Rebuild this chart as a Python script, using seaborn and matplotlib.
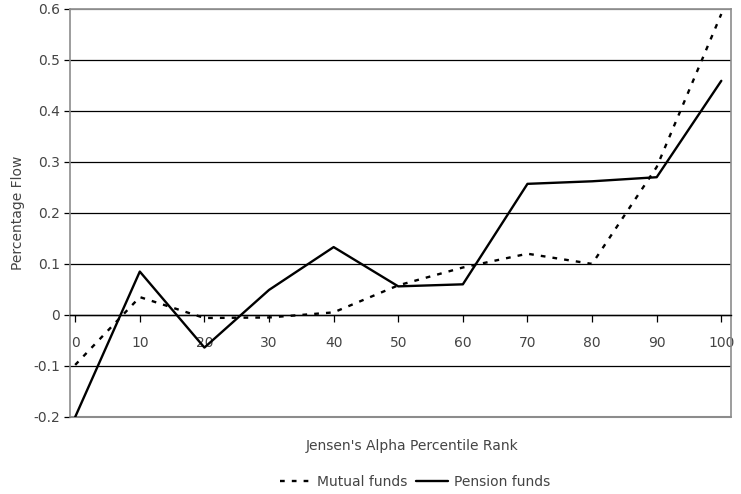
import pandas as pd
import seaborn as sns
import matplotlib.pyplot as plt

sns.set_style('white')
plt.rcParams['font.family'] = ['DejaVu Sans']

ranks = [0, 10, 20, 30, 40, 50, 60, 70, 80, 90, 100]
mutual = [-0.098, 0.035, -0.006, -0.005, 0.005, 0.058, 0.093, 0.12, 0.10, 0.29, 0.59]
pension = [-0.20, 0.085, -0.064, 0.049, 0.133, 0.056, 0.060, 0.257, 0.262, 0.270, 0.459]
yticks = [-0.2, -0.1, 0, 0.1, 0.2, 0.3, 0.4, 0.5, 0.6]
ytick_labels = ['-0.2', '-0.1', '0', '0.1', '0.2', '0.3', '0.4', '0.5', '0.6']

df = pd.DataFrame({
    'rank': ranks * 2,
    'flow': mutual + pension,
    'series': ['Mutual funds'] * len(ranks) + ['Pension funds'] * len(ranks),
})

txt = '#444444'
frame = '#8c8c8c'
fs = 10

fig = plt.figure(figsize=(7.41, 4.94), dpi=100)
ax = fig.add_axes([0.0945, 0.156, 0.892, 0.826])

sns.lineplot(data=df, x='rank', y='flow', hue='series', style='series',
             palette={'Mutual funds': 'black', 'Pension funds': 'black'},
             dashes={'Mutual funds': (2, 3), 'Pension funds': ''},
             linewidth=1.7, ax=ax, legend=True)

ax.set_xlim(-0.8, 101.5)
ax.set_ylim(-0.2, 0.6)
ax.set_xticks(ranks)
ax.set_xticklabels([str(r) for r in ranks])
ax.set_yticks(yticks)
ax.set_yticklabels(ytick_labels)

ax.grid(axis='y', color='black', linewidth=0.9)
gl = ax.get_ygridlines()
for g in (gl[0], gl[-1]):
    g.set_color(frame)
ax.axhline(-0.2, color=frame, linewidth=1.5, clip_on=False, zorder=0)
ax.set_axisbelow(True)

ax.spines['bottom'].set_position(('data', 0))
ax.spines['bottom'].set_color('black')
ax.spines['bottom'].set_linewidth(1.0)
for s in ('left', 'top', 'right'):
    ax.spines[s].set_color(frame)
    ax.spines[s].set_linewidth(1.2)

ax.tick_params(axis='x', direction='out', length=5, width=0.9, color='black',
               pad=10, labelsize=fs, labelcolor=txt, bottom=True)
ax.tick_params(axis='y', direction='out', length=4, width=0.9, color='black',
               pad=3, labelsize=fs, labelcolor=txt, left=True)

ax.set_xlabel("Jensen's Alpha Percentile Rank", fontsize=fs, color=txt, va='center')
ax.xaxis.set_label_coords(0.517, -0.071)
ax.set_ylabel('Percentage Flow', fontsize=fs, color=txt, labelpad=6)

h, l = ax.get_legend_handles_labels()
ax.legend(h, l, loc='center', bbox_to_anchor=(0.56, 0.024),
          bbox_transform=fig.transFigure, ncol=2, frameon=False,
          fontsize=fs, labelcolor=txt, handlelength=2.3,
          handletextpad=0.4, columnspacing=0.6)

plt.savefig('out.png', dpi=100)
